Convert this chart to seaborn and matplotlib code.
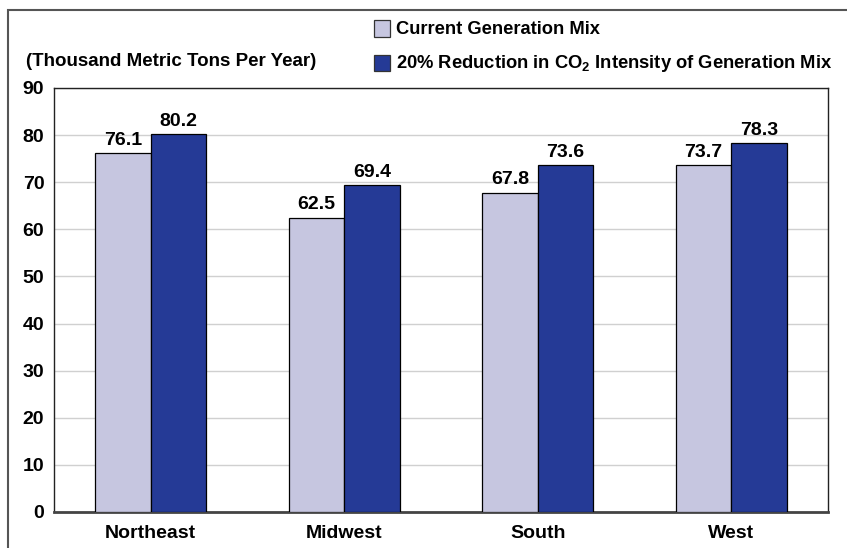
import matplotlib
matplotlib.use("Agg")
import matplotlib.pyplot as plt
from matplotlib.patches import Rectangle
import seaborn as sns
import pandas as pd

regions = ["Northeast", "Midwest", "South", "West"]
current_mix = [76.1, 62.5, 67.8, 73.7]
reduced_mix = [80.2, 69.4, 73.6, 78.3]
series_names = ["Current Generation Mix",
                "20% Reduction in CO$_2$ Intensity of Generation Mix"]
y_ticks = [0, 10, 20, 30, 40, 50, 60, 70, 80, 90]

df = pd.DataFrame({
    "Region": regions * 2,
    "Value": current_mix + reduced_mix,
    "Series": [series_names[0]] * len(regions) + [series_names[1]] * len(regions),
})

sns.set_theme(style="white")
plt.rcParams["font.family"] = ["Liberation Sans", "DejaVu Sans"]
plt.rcParams["mathtext.fontset"] = "custom"
plt.rcParams["mathtext.rm"] = "Liberation Sans:bold"
plt.rcParams["mathtext.it"] = "Liberation Sans:bold"
plt.rcParams["mathtext.bf"] = "Liberation Sans:bold"
plt.rcParams["text.color"] = "black"
plt.rcParams["xtick.color"] = "black"
plt.rcParams["ytick.color"] = "black"

FS = 13.5

W, H = 847, 548
fig = plt.figure(figsize=(W / 100, H / 100), dpi=100)
ax = fig.add_axes([54 / W, 1 - 512 / H, (828 - 54) / W, (512 - 88) / H])

colors = ["#c6c6e0", "#253a96"]
sns.barplot(data=df, x="Region", y="Value", hue="Series", palette=colors,
            width=0.575, gap=0, edgecolor="black", linewidth=0.9,
            saturation=1, ax=ax, legend=False, zorder=3)

ax.set_xlim(-0.5, 3.5)
ax.set_ylim(0, 90)
ax.set_yticks(y_ticks)
ax.yaxis.grid(True, color="#d0d0d0", linewidth=1.0, zorder=0)
ax.set_axisbelow(True)
ax.set_xlabel("")
ax.set_ylabel("")
ax.tick_params(axis="y", length=0, labelsize=FS + 0.5, pad=7)
ax.tick_params(axis="x", length=0, labelsize=FS + 0.5, pad=9)
for lab in ax.get_xticklabels() + ax.get_yticklabels():
    lab.set_fontweight("bold")
for side in ["left", "top", "right"]:
    ax.spines[side].set_color("#222222")
    ax.spines[side].set_linewidth(1.0)
ax.spines["bottom"].set_color("#444444")
ax.spines["bottom"].set_linewidth(2.0)

# value labels above bars
for container in ax.containers:
    ax.bar_label(container, fmt="%.1f", padding=3, fontsize=FS + 0.5,
                 fontweight="bold", color="black")

# unit label
fig.text(26 / W, 1 - 62 / H, "(Thousand Metric Tons Per Year)",
         fontsize=FS, fontweight="bold", va="center", ha="left")

# legend entries
for i, (name, col) in enumerate(zip(series_names, colors)):
    yc = [29, 63][i]
    fig.patches.append(Rectangle((374 / W, 1 - (yc + 8) / H), 16 / W, 16.5 / H,
                                 transform=fig.transFigure, facecolor=col,
                                 edgecolor="#333333", linewidth=0.9))
    fig.text(396 / W, 1 - yc / H, name, fontsize=FS - 0.3, fontweight="bold",
             va="center", ha="left")

# outer frame
fig.patches.append(Rectangle((8 / W, -0.1), 1.2, 1 - 10 / H + 0.1,
                             transform=fig.transFigure, fill=False,
                             edgecolor="#555555", linewidth=1.5))

fig.savefig("out.png", dpi=100)
